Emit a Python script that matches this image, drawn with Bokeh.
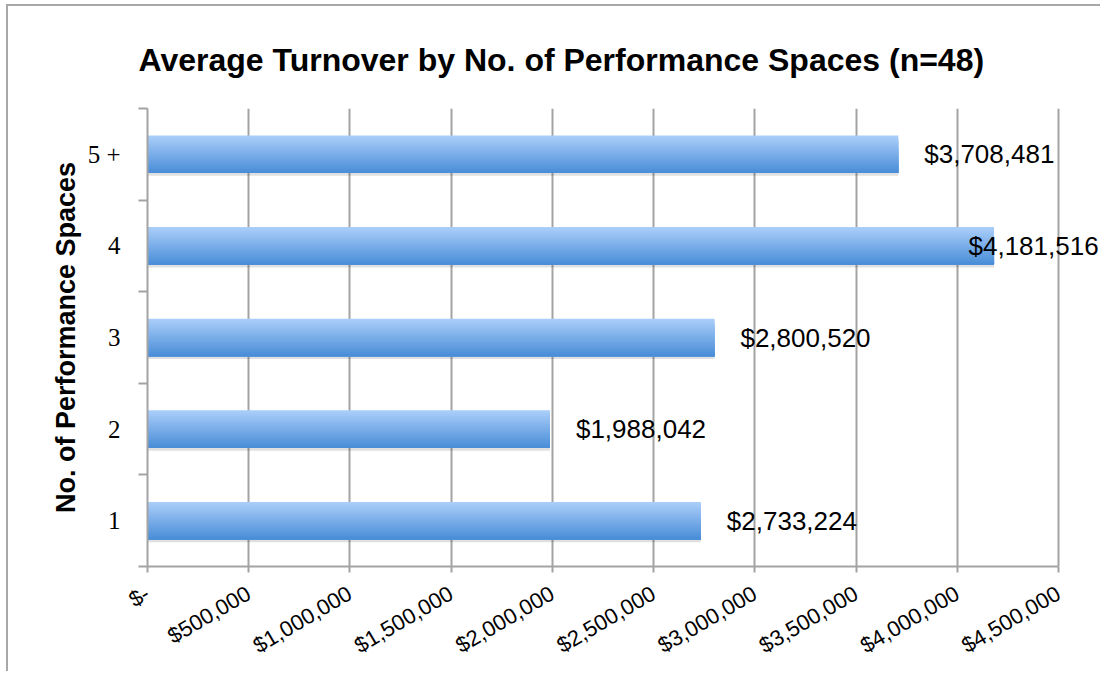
from bokeh.plotting import figure
from bokeh.models import ColumnDataSource, FixedTicker, Range1d, Title, LabelSet
from bokeh.core.properties import value
from bokeh.embed import file_html
from bokeh.resources import INLINE

# ---- data ----
categories = ["1", "2", "3", "4", "5 +"]
turnover = [2733224, 1988042, 2800520, 4181516, 3708481]
turnover_labels = ["$2,733,224", "$1,988,042", "$2,800,520", "$4,181,516", "$3,708,481"]
x_ticks = [0, 500000, 1000000, 1500000, 2000000, 2500000, 3000000, 3500000, 4000000, 4500000]
x_tick_labels = ["$-", "$500,000", "$1,000,000", "$1,500,000", "$2,000,000",
                 "$2,500,000", "$3,000,000", "$3,500,000", "$4,000,000", "$4,500,000"]
title_text = "Average Turnover by No. of Performance Spaces (n=48)"
y_title = "No. of Performance Spaces"

# ---- layout ----
AXIS_W = 911          # pixel width of the 0..4.5M axis
FW, FH = 953, 458     # frame extends right so labels are not clipped
XMAX = x_ticks[-1]
XEND = XMAX * FW / AXIS_W
GRAY = "#a3a3a3"

p = figure(frame_width=FW, frame_height=FH, output_backend="svg", toolbar_location=None,
           x_range=Range1d(0, XEND), y_range=Range1d(0.5, len(categories) + 0.5),
           min_border_left=139, min_border_right=0, min_border_top=102, min_border_bottom=100)
p.outline_line_color = None
p.background_fill_color = "white"
p.border_fill_color = "white"
p.styles = {"border-top": "2px solid #a8a8a8", "border-left": "2px solid #a8a8a8",
            "margin-left": "6px", "margin-top": "4px"}

p.add_layout(Title(text=title_text, align="left", offset=-9, standoff=62,
                   text_line_height=0.9,
                   text_font="Liberation Sans", text_font_size="32px",
                   text_font_style="bold", text_color="black"), "above")

ypos = [i + 1 for i in range(len(categories))]
bar_h = 0.41

# shadow
p.hbar(y=[y - 0.03 for y in ypos], right=turnover, left=0, height=bar_h,
       fill_color="#000000", fill_alpha=0.12, line_color=None)

# gradient bars: successive darker layers covering the lower part of each bar
N = 20
top_c = (0xa9, 0xcd, 0xf9)
bot_c = (0x4a, 0x8e, 0xd8)
for k in range(N):
    t = k / (N - 1)
    c = tuple(int(round(top_c[j] + (bot_c[j] - top_c[j]) * t)) for j in range(3))
    col = "#%02x%02x%02x" % c
    layer_h = bar_h * (N - k) / N
    p.hbar(y=[y - bar_h / 2 + layer_h / 2 for y in ypos], right=turnover, left=0,
           height=layer_h, fill_color=col, line_color=None)

# data labels
ppu = AXIS_W / XMAX
label_w = 130
max_right = 951
offsets = [min(26, max_right - label_w - v * ppu) for v in turnover]
src = ColumnDataSource(dict(x=turnover, y=ypos, t=turnover_labels, off=offsets))
p.add_layout(LabelSet(x="x", y="y", text="t", x_offset="off", source=src,
                      text_font=value("Liberation Sans"), text_font_size=value("26px"),
                      text_baseline="middle", text_align="left", text_color="black"))

# grid
p.ygrid.visible = False
p.xgrid.ticker = FixedTicker(ticks=x_ticks)
p.xgrid.grid_line_color = GRAY
p.xgrid.grid_line_width = 2

# x axis
xa = p.xaxis[0]
xa.bounds = (0, XMAX)
xa.ticker = FixedTicker(ticks=x_ticks)
xa.major_label_overrides = {t: l for t, l in zip(x_ticks, x_tick_labels)}
xa.major_label_orientation = 0.53
xa.major_label_text_font = "Liberation Sans"
xa.major_label_text_font_size = "22px"
xa.major_label_text_color = "black"
xa.major_label_standoff = 19
xa.axis_line_color = GRAY
xa.axis_line_width = 2
xa.major_tick_line_color = GRAY
xa.major_tick_line_width = 2
xa.major_tick_in = 0
xa.major_tick_out = 6
xa.minor_tick_line_color = None

# y axis
ya = p.yaxis[0]
ya.ticker = FixedTicker(ticks=ypos, minor_ticks=[y - 0.5 for y in ypos] + [ypos[-1] + 0.5])
ya.major_label_overrides = {y: c for y, c in zip(ypos, categories)}
ya.major_label_text_font = "Liberation Serif"
ya.major_label_text_font_size = "25px"
ya.major_label_text_color = "black"
ya.major_label_standoff = 18
ya.major_tick_in = 0
ya.major_tick_out = 0
ya.minor_tick_in = 0
ya.minor_tick_out = 9
ya.minor_tick_line_color = GRAY
ya.minor_tick_line_width = 2
ya.axis_line_color = GRAY
ya.axis_line_width = 2
ya.axis_label = y_title
ya.axis_label_text_font = "Liberation Sans"
ya.axis_label_text_font_size = "27px"
ya.axis_label_text_font_style = "bold"
ya.axis_label_text_color = "black"
ya.axis_label_standoff = 4

open("out.html", "w").write(file_html(p, INLINE))
